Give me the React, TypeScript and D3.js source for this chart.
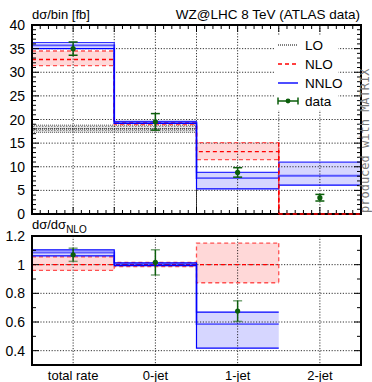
import React from "react";
import * as d3 from "d3";

const categories = ["total rate", "0-jet", "1-jet", "2-jet"];

// main panel (fb)
const loCen = [18.0, 18.0, 0, 0];
const loLow = [17.3, 17.3, 0, 0];
const loHigh = [18.8, 18.8, 0, 0];
const nloCen = [32.7, 19.2, 13.2, 0];
const nloLow = [31.4, 18.9, 11.5, 0];
const nloHigh = [34.5, 19.5, 15.1, 0];
const nnloCen = [35.7, 19.35, 7.6, 8.1];
const nnloLow = [35.0, 19.15, 5.3, 6.1];
const nnloHigh = [36.3, 19.6, 8.8, 11.0];
const dataVal = [35.0, 19.5, 8.8, 3.45];
const dataErr = [1.4, 1.75, 1.0, 0.7];

// ratio panel (to NLO)
const rNloCen = [1.0, 1.0, 1.0];
const rNloLow = [0.96, 0.986, 0.874];
const rNloHigh = [1.055, 1.016, 1.15];
const rNnloCen = [1.085, 1.003, 0.585];
const rNnloLow = [1.062, 0.993, 0.418];
const rNnloHigh = [1.103, 1.012, 0.669];
const rDataVal = [1.069, 1.016, 0.676];
const rDataErr = [0.046, 0.088, 0.072];

const topTicks = [0, 5, 10, 15, 20, 25, 30, 35, 40];
const ratioTicks = [0.4, 0.6, 0.8, 1, 1.2];

const FONT = "'Liberation Sans', Arial, Helvetica, sans-serif";
const GREEN = "#0b5e0b";
const PLOT_L = 32, PLOT_R = 361;

export default function App() {
  const x = d3.scaleLinear().domain([0, 4]).range([PLOT_L, PLOT_R]);
  const yT = d3.scaleLinear().domain([0, 40]).range([214, 25]);
  const yR = d3.scaleLinear().domain([0.3, 1.2]).range([365, 236]);

  const step = (vals: number[], y: (v: number) => number) => {
    const p = d3.path();
    vals.forEach((v, i) => {
      if (i === 0) p.moveTo(x(0), y(v));
      else p.lineTo(x(i), y(v));
      p.lineTo(x(i + 1), y(v));
    });
    return p.toString();
  };

  const bands = (lo: number[], hi: number[], y: (v: number) => number, fill: string, key: string) =>
    lo.map((l, i) =>
      hi[i] - l > 0 ? (
        <rect key={key + i} x={x(i)} width={x(i + 1) - x(i)} y={y(hi[i])} height={y(l) - y(hi[i])} fill={fill} />
      ) : null
    );

  const dataMarks = (vals: number[], errs: number[], y: (v: number) => number, capOp: number, key: string) =>
    vals.map((v, i) => {
      const cx = x(i + 0.5);
      return (
        <g key={key + i}>
          <line x1={cx} x2={cx} y1={y(v - errs[i])} y2={y(v + errs[i])} stroke={GREEN} strokeWidth={1.5} />
          <line x1={cx - 4.5} x2={cx + 4.5} y1={y(v + errs[i])} y2={y(v + errs[i])} stroke={GREEN} strokeWidth={1.5} opacity={capOp} />
          <line x1={cx - 4.5} x2={cx + 4.5} y1={y(v - errs[i])} y2={y(v - errs[i])} stroke={GREEN} strokeWidth={1.5} opacity={capOp} />
          <circle cx={cx} cy={y(v)} r={2.6} fill={GREEN} />
        </g>
      );
    });

  const topMinorY = d3.range(0, 40.01, 1);
  const topMinorX = d3.range(0, 4.001, 0.1);
  const ratioMinorY = d3.range(0.3, 1.201, 0.1);

  const grid = "1.2,1.6";

  return (
    <svg width={372} height={382} style={{ position: "absolute", left: 0, top: 0, background: "#fff" }} fontFamily={FONT}>
      <defs>
        <pattern id="loPat" width={3} height={2} patternUnits="userSpaceOnUse">
          <rect width={3} height={2} fill="#e6e6e6" />
          <rect width={1.5} height={1} fill="#8a8a8a" />
        </pattern>
        <clipPath id="clipTop"><rect x={PLOT_L} y={25} width={PLOT_R - PLOT_L} height={190} /></clipPath>
        <clipPath id="clipRat"><rect x={PLOT_L} y={236} width={PLOT_R - PLOT_L} height={129} /></clipPath>
      </defs>
      <rect width={372} height={382} fill="#fff" />

      {/* ===== top panel ===== */}
      <text x={32} y={19} fontSize={13}>dσ/bin [fb]</text>
      <text x={360} y={19} fontSize={13.5} textAnchor="end">WZ@LHC 8 TeV (ATLAS data)</text>

      <g clipPath="url(#clipTop)">
        {bands(nloLow, nloHigh, yT, "#ffd8d8", "nb")}
        {bands(nnloLow, nnloHigh, yT, "#d6d6ff", "bb")}
        {bands(loLow, loHigh, yT, "url(#loPat)", "lb")}
        {topTicks.slice(1, -1).map((t) => (
          <line key={"gy" + t} x1={PLOT_L} x2={PLOT_R} y1={yT(t)} y2={yT(t)} stroke="#000" strokeWidth={0.8} strokeDasharray={grid} />
        ))}
        {d3.range(0.5, 4, 0.5).map((t) => (
          <line key={"gx" + t} x1={x(t)} x2={x(t)} y1={25} y2={214} stroke="#000" strokeWidth={0.8} strokeDasharray={grid} />
        ))}
        {/* LO */}
        <path d={step(loHigh, yT)} fill="none" stroke="#555" strokeWidth={1} strokeDasharray="1,1" />
        <path d={step(loLow, yT)} fill="none" stroke="#555" strokeWidth={1} strokeDasharray="1,1" />
        <path d={step(loCen, yT)} fill="none" stroke="#000" strokeWidth={1} strokeDasharray="1,1" />
        {/* NLO */}
        <path d={step(nloHigh, yT)} fill="none" stroke="#ff5050" strokeWidth={1.3} strokeDasharray="4,3" />
        <path d={step(nloLow, yT)} fill="none" stroke="#ff5050" strokeWidth={1.3} strokeDasharray="4,3" />
        <path d={step(nloCen, yT)} fill="none" stroke="#ff0000" strokeWidth={1.4} strokeDasharray="4,3" />
        {/* NNLO */}
        <path d={step(nnloHigh, yT)} fill="none" stroke="#3030ff" strokeWidth={1.2} />
        <path d={step(nnloLow, yT)} fill="none" stroke="#0000ff" strokeWidth={1.2} />
        <path d={step(nnloCen, yT)} fill="none" stroke="#0000ff" strokeWidth={1.8} opacity={0.6} />
      </g>

      <rect x={PLOT_L} y={25} width={PLOT_R - PLOT_L} height={189} fill="none" stroke="#000" strokeWidth={2} />
      {topMinorY.map((t) => {
        const len = t % 5 === 0 ? 7 : 4;
        return (
          <g key={"ty" + t}>
            <line x1={PLOT_L} x2={PLOT_L + len} y1={yT(t)} y2={yT(t)} stroke="#000" strokeWidth={1} />
            <line x1={PLOT_R - len} x2={PLOT_R} y1={yT(t)} y2={yT(t)} stroke="#000" strokeWidth={1} />
          </g>
        );
      })}
      {topMinorX.map((t, i) => {
        const len = i % 5 === 0 ? 7 : 4;
        return (
          <g key={"tx" + i}>
            <line x1={x(t)} x2={x(t)} y1={25} y2={25 + len} stroke="#000" strokeWidth={1} />
            <line x1={x(t)} x2={x(t)} y1={214 - len} y2={214} stroke="#000" strokeWidth={1} />
          </g>
        );
      })}
      {topTicks.map((t) => (
        <text key={"tl" + t} x={25} y={yT(t) + 5} fontSize={14} textAnchor="end">{t}</text>
      ))}
      <line x1={x(3)} x2={x(4)} y1={yT(0)} y2={yT(0)} stroke="#ff0000" strokeWidth={1.4} strokeDasharray="4,3" />
      <line x1={x(3)} x2={x(3)} y1={yT(nloHigh[2])} y2={yT(0)} stroke="#ff0000" strokeWidth={1.4} strokeDasharray="4,3" />

      {dataMarks(dataVal, dataErr, yT, 1, "dt")}

      {/* legend */}
      <rect x={275} y={36} width={63} height={74} fill="#fff" />
      <line x1={278} x2={298} y1={45} y2={45} stroke="#000" strokeWidth={1} strokeDasharray="1,1" />
      <text x={305} y={50} fontSize={13.5}>LO</text>
      <line x1={278} x2={298} y1={64} y2={64} stroke="#ff0000" strokeWidth={1.4} strokeDasharray="4,3" />
      <text x={305} y={69} fontSize={13.5}>NLO</text>
      <line x1={278} x2={298} y1={83} y2={83} stroke="#0000ff" strokeWidth={1.4} />
      <text x={305} y={88} fontSize={13.5}>NNLO</text>
      <line x1={278} x2={298} y1={101} y2={101} stroke={GREEN} strokeWidth={1.5} />
      <line x1={278} x2={278} y1={97.5} y2={104.5} stroke={GREEN} strokeWidth={1.5} />
      <line x1={298} x2={298} y1={97.5} y2={104.5} stroke={GREEN} strokeWidth={1.5} />
      <circle cx={288} cy={101} r={2.4} fill={GREEN} />
      <text x={305} y={106} fontSize={13.5}>data</text>

      <text transform="translate(369,213) rotate(-90)" fontSize={12} fontFamily="'DejaVu Sans Mono', monospace" fill="#777">produced with MATRIX</text>

      {/* ===== ratio panel ===== */}
      <text x={32} y={229} fontSize={13}>dσ/dσ<tspan fontSize={10} dy={4}>NLO</tspan></text>

      <g clipPath="url(#clipRat)">
        {bands(rNloLow, rNloHigh, yR, "#ffd8d8", "rnb")}
        {bands(rNnloLow, rNnloHigh, yR, "#d6d6ff", "rbb")}
        {ratioTicks.slice(0, -1).map((t) => (
          <line key={"rgy" + t} x1={PLOT_L} x2={PLOT_R} y1={yR(t)} y2={yR(t)} stroke="#000" strokeWidth={0.8} strokeDasharray={grid} />
        ))}
        {categories.map((c, i) => (
          <line key={"rgx" + c} x1={x(i + 0.5)} x2={x(i + 0.5)} y1={236} y2={365} stroke="#000" strokeWidth={0.8} strokeDasharray={grid} />
        ))}
        <path d={step(rNloHigh, yR)} fill="none" stroke="#ff5050" strokeWidth={1.3} strokeDasharray="4,3" />
        <path d={step(rNloLow, yR)} fill="none" stroke="#ff5050" strokeWidth={1.3} strokeDasharray="4,3" />
        <path d={step(rNloCen, yR)} fill="none" stroke="#ff0000" strokeWidth={1.4} strokeDasharray="4,3" />
        <line x1={x(3)} x2={x(3)} y1={yR(rNloHigh[2])} y2={yR(rNloLow[2])} stroke="#ff5050" strokeWidth={1.3} strokeDasharray="4,3" />
        <path d={step(rNnloHigh, yR)} fill="none" stroke="#0000ff" strokeWidth={1.2} />
        <path d={step(rNnloLow, yR)} fill="none" stroke="#0000ff" strokeWidth={1.2} />
        <path d={step(rNnloCen, yR)} fill="none" stroke="#0000ff" strokeWidth={1.8} opacity={0.55} />
      </g>

      <rect x={PLOT_L} y={236} width={PLOT_R - PLOT_L} height={129} fill="none" stroke="#000" strokeWidth={2} />
      {ratioMinorY.map((t, i) => {
        const len = i % 2 === 1 ? 7 : 4;
        return (
          <g key={"ry" + i}>
            <line x1={PLOT_L} x2={PLOT_L + len} y1={yR(t)} y2={yR(t)} stroke="#000" strokeWidth={1} />
            <line x1={PLOT_R - len} x2={PLOT_R} y1={yR(t)} y2={yR(t)} stroke="#000" strokeWidth={1} />
          </g>
        );
      })}
      {ratioTicks.map((t) => (
        <text key={"rl" + t} x={25} y={yR(t) + 5} fontSize={14} textAnchor="end">{t === 1 ? "1" : t.toFixed(1)}</text>
      ))}

      {dataMarks(rDataVal, rDataErr, yR, 0.55, "rd")}

      {categories.map((c, i) => (
        <text key={"xl" + c} x={x(i + 0.5)} y={380} fontSize={13} textAnchor="middle">{c}</text>
      ))}
    </svg>
  );
}
